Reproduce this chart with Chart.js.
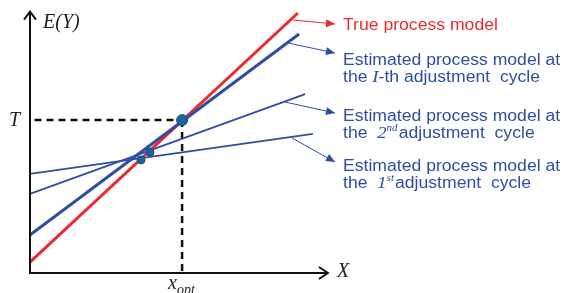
<!DOCTYPE html>
<html lang="en">
<head>
<meta charset="UTF-8">
<script src="https://cdn.jsdelivr.net/npm/chart.js"></script>
<title>Process model adjustment</title>
<style>
  body{margin:0;background:#fff;}
  #wrap{width:567px;height:293px;position:relative;}
</style>
</head>
<body>
<div id="wrap"><canvas id="myChart"></canvas></div>
<script>
// lines: [start, end] in data units
const trueX = [0, 8.93];
const trueY = [0.42, 10.0];
const estIX = [0, 8.97];
const estIY = [1.46, 9.19];
const est2X = [0, 9.17];
const est2Y = [3.04, 6.88];
const est1X = [0, 9.43];
const est1Y = [3.81, 5.35];
// target and optimum
const target = 5.88;
const xOpt = 5.07;
// solution points (I-th, 2nd, 1st)
const dotX = [5.07, 4.0, 3.7];
const dotY = [5.88, 4.65, 4.35];

const RED = '#ec2a2e';
const BLUE = '#2f4ea3';

function pts(xs, ys){ return xs.map((x,i)=>({x:x, y:ys[i]})); }

const overlay = {
  id:'overlay',
  afterDatasetsDraw(chart){
    const c = chart.ctx, sx = chart.scales.x, sy = chart.scales.y;
    const px = v => sx.getPixelForValue(v), py = v => sy.getPixelForValue(v);
    c.save();
    // axes
    c.strokeStyle = '#111'; c.lineWidth = 2; c.lineCap = 'butt';
    c.beginPath();
    c.moveTo(px(0), py(10.05)); c.lineTo(px(0), py(0)); c.lineTo(px(9.93), py(0));
    c.stroke();
    c.beginPath();
    c.moveTo(px(0)-6, py(10.05)+8); c.lineTo(px(0), py(10.05)); c.lineTo(px(0)+6, py(10.05)+8);
    c.moveTo(px(9.93)-9, py(0)-6); c.lineTo(px(9.93), py(0)); c.lineTo(px(9.93)-9, py(0)+6);
    c.stroke();

    // annotation arrows
    function arrow(x1,y1,x2,y2,col){
      c.strokeStyle = col; c.fillStyle = col; c.lineWidth = 1;
      c.beginPath(); c.moveTo(x1,y1); c.lineTo(x2,y2); c.stroke();
      const a = Math.atan2(y2-y1, x2-x1), L = 9, W = 4;
      c.beginPath();
      c.moveTo(x2,y2);
      c.lineTo(x2 - L*Math.cos(a) + W*Math.sin(a), y2 - L*Math.sin(a) - W*Math.cos(a));
      c.lineTo(x2 - L*Math.cos(a) - W*Math.sin(a), y2 - L*Math.sin(a) + W*Math.cos(a));
      c.closePath(); c.fill();
    }
    arrow(293,20,335,24,RED);
    arrow(288,43,335,53,BLUE);
    arrow(285,102,335,113,BLUE);
    arrow(292,138,335,162,BLUE);

    // rich text (sx = horizontal stretch)
    function rich(parts, x, y, col, stretch){
      const k = stretch || 1;
      c.save();
      c.translate(x, y); c.scale(k, 1);
      c.fillStyle = col; c.textBaseline = 'alphabetic'; c.textAlign = 'left';
      let cx = 0;
      parts.forEach(p=>{
        c.font = p.f;
        c.fillText(p.t, cx, p.dy||0);
        cx += c.measureText(p.t).width + (p.sp||0);
      });
      c.restore();
    }
    const sans = '16px "Liberation Sans", Arial, sans-serif';
    const ser = 'italic 17px "Liberation Serif", "Times New Roman", serif';
    const sup = 'italic 10px "Liberation Serif", "Times New Roman", serif';
    const K = 1.1;
    rich([{t:'True process model', f:sans}], 343, 30, RED, K);
    rich([{t:'Estimated process model at', f:sans}], 343, 65, BLUE, K);
    rich([{t:'the ', f:sans}, {t:'I', f:ser}, {t:'-th adjustment  cycle', f:sans}], 343, 82, BLUE, K);
    rich([{t:'Estimated process model at', f:sans}], 343, 121, BLUE, K);
    rich([{t:'the  ', f:sans}, {t:'2', f:ser}, {t:'nd', f:sup, dy:-7, sp:1}, {t:'adjustment  cycle', f:sans}], 343, 138, BLUE, K);
    rich([{t:'Estimated process model at', f:sans}], 343, 171, BLUE, K);
    rich([{t:'the  ', f:sans}, {t:'1', f:ser}, {t:'st', f:sup, dy:-7, sp:1}, {t:'adjustment  cycle', f:sans}], 343, 188, BLUE, K);

    // axis labels
    const big = 'italic 20px "Liberation Serif", "Times New Roman", serif';
    rich([{t:'E(Y)', f:big}], 43, 28, '#222');
    rich([{t:'T', f:big}], 9, 126, '#222');
    rich([{t:'X', f:big}], 337, 277, '#222');
    rich([{t:'x', f:big}, {t:'opt', f:'italic 14px "Liberation Serif", serif', dy:5}], 168, 289, '#222');
    c.restore();
  }
};

new Chart(document.getElementById('myChart'), {
  type:'scatter',
  data:{
    datasets:[
      {label:'T', order:6, data:[{x:0.15,y:target},{x:xOpt,y:target}], showLine:true, borderColor:'#111', borderWidth:2.5, borderDash:[7,5], pointRadius:0},
      {label:'xopt', order:6, data:[{x:xOpt,y:target},{x:xOpt,y:0}], showLine:true, borderColor:'#111', borderWidth:2.5, borderDash:[7,5], pointRadius:0},
      {label:'1st', order:5, data:pts(est1X, est1Y), showLine:true, borderColor:BLUE, borderWidth:1.8, pointRadius:0},
      {label:'2nd', order:4, data:pts(est2X, est2Y), showLine:true, borderColor:BLUE, borderWidth:1.8, pointRadius:0},
      {label:'True process model', order:3, data:pts(trueX, trueY), showLine:true, borderColor:RED, borderWidth:3, pointRadius:0},
      {label:'I-th', order:2, data:pts(estIX, estIY), showLine:true, borderColor:BLUE, borderWidth:3, pointRadius:0},
      {label:'points', order:0, data:pts(dotX, dotY), showLine:false, backgroundColor:'#1d6597', borderColor:'#174b78', borderWidth:1, pointRadius:[5.5,4,4]}
    ]
  },
  options:{
    responsive:true, maintainAspectRatio:false, animation:false,
    layout:{padding:{left:30, right:237, top:13, bottom:20}},
    clip:false,
    plugins:{legend:{display:false}, tooltip:{enabled:false}},
    scales:{
      x:{type:'linear', min:0, max:10, display:false},
      y:{type:'linear', min:0, max:10, display:false}
    }
  },
  plugins:[overlay]
});
</script>
</body>
</html>
